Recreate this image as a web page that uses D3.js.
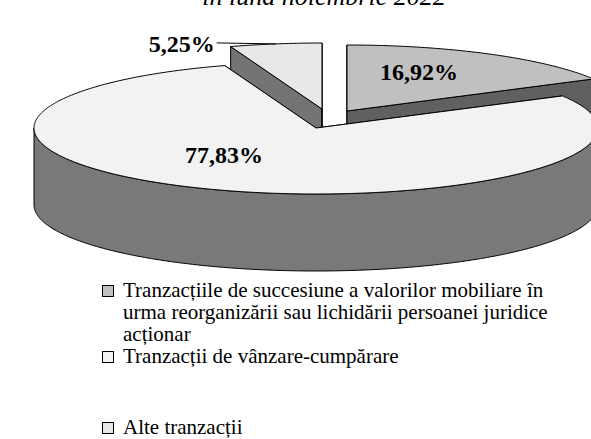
<!DOCTYPE html>
<html>
<head>
<meta charset="utf-8">
<script src="https://cdn.jsdelivr.net/npm/d3@7"></script>
<style>
  html, body { margin: 0; padding: 0; background: #ffffff; }
  svg { display: block; }
</style>
</head>
<body>
<script>
// ---------------- data ----------------
const titleText = "în luna noiembrie 2022";
const categories = [
  "Tranzacțiile de succesiune a valorilor mobiliare în urma reorganizării sau lichidării persoanei juridice acționar",
  "Tranzacții de vânzare-cumpărare",
  "Alte tranzacții"
];
const values = [16.92, 77.83, 5.25];
const valueLabels = ["16,92%", "77,83%", "5,25%"];
const sliceColors = ["#c0c0c0", "#f2f2f2", "#e8e8e8"];

// ---------------- layout / style ----------------
const W = 591, H = 439;
const cx = 316, cy = 128, rx = 282, ry = 66, depth = 77;
const explodeOffset = [[31, -17], [0, 0], [6, -19]];
const labelOffset = [[72, -39], [-92, 27], null]; // relative to slice centre; null = outside label
const fontSerif = "'Liberation Serif', 'Times New Roman', serif";

const svg = d3.select("body").append("svg")
  .attr("width", W).attr("height", H);

// title (clipped at top of frame, as in the source)
svg.append("text")
  .attr("x", 324).attr("y", 5)
  .attr("text-anchor", "middle")
  .attr("font-family", fontSerif)
  .attr("font-style", "italic")
  .attr("font-size", 26)
  .text(titleText);

const pie = d3.pie().sort(null).value(d => d);
const arcs = pie(values);

function pt(c, a, r = 1, dy = 0) {
  return [c[0] + r * rx * Math.sin(a), c[1] - r * ry * Math.cos(a) + dy];
}
function arcPts(c, a0, a1, dy = 0) {
  const n = Math.max(2, Math.ceil((a1 - a0) / 0.01));
  return d3.range(n + 1).map(i => pt(c, a0 + (a1 - a0) * i / n, 1, dy));
}
const line = d3.line();
const closed = pts => line(pts) + "Z";

function wallColor(col) {
  const c = d3.rgb(col);
  return d3.rgb(c.r * 0.5, c.g * 0.5, c.b * 0.5).formatHex();
}

const slices = arcs.map((d, i) => {
  const c = [cx + explodeOffset[i][0], cy + explodeOffset[i][1]];
  const mid = (d.startAngle + d.endAngle) / 2;
  return { d, i, c, mid, sortKey: c[1] - 0.5 * ry * Math.cos(mid) };
}).sort((a, b) => a.sortKey - b.sortKey);

const g = svg.append("g")
  .attr("stroke", "#000")
  .attr("stroke-width", 1)
  .attr("stroke-linejoin", "round");

slices.forEach(s => {
  const { d, c, i } = s;
  const wc = wallColor(sliceColors[i]);
  // radial walls
  [d.startAngle, d.endAngle].forEach(a => {
    const p = pt(c, a);
    g.append("path")
      .attr("d", closed([c, p, [p[0], p[1] + depth], [c[0], c[1] + depth]]))
      .attr("fill", wc);
  });
  // outer (front) wall
  const lo = Math.max(d.startAngle, Math.PI / 2);
  const hi = Math.min(d.endAngle, 3 * Math.PI / 2);
  if (lo < hi) {
    const top = arcPts(c, lo, hi, 0);
    const bot = arcPts(c, lo, hi, depth).reverse();
    g.append("path").attr("d", closed(top.concat(bot))).attr("fill", wc);
  }
  // top face
  g.append("path")
    .attr("d", closed([c].concat(arcPts(c, d.startAngle, d.endAngle))))
    .attr("fill", sliceColors[i]);
});

// value labels
slices.forEach(s => {
  const { i, c, mid } = s;
  if (labelOffset[i]) {
    svg.append("text")
      .attr("x", c[0] + labelOffset[i][0])
      .attr("y", c[1] + labelOffset[i][1])
      .attr("text-anchor", "middle")
      .attr("dominant-baseline", "central")
      .attr("font-family", fontSerif)
      .attr("font-weight", "bold")
      .attr("font-size", 24)
      .text(valueLabels[i]);
  } else {
    const p = pt(c, mid);
    const lx = p[0] - 59, ly = p[1] - 1;
    svg.append("line")
      .attr("x1", lx).attr("y1", ly).attr("x2", p[0]).attr("y2", p[1])
      .attr("stroke", "#000").attr("stroke-width", 1);
    svg.append("text")
      .attr("x", lx - 2).attr("y", ly + 9)
      .attr("text-anchor", "end")
      .attr("font-family", fontSerif)
      .attr("font-weight", "bold")
      .attr("font-size", 24)
      .text(valueLabels[i]);
  }
});

// legend
const legendX = 102, textX = 123, boxSize = 11, lineH = 22, wrapW = 455;
const firstBaseline = 297, lastBaseline = 434;
const lg = svg.append("g").attr("font-family", fontSerif).attr("font-size", 21);

function wrapLines(str) {
  const words = str.split(" ");
  const tmp = lg.append("text");
  const lines = [];
  let cur = "";
  words.forEach(w => {
    const test = cur ? cur + " " + w : w;
    tmp.text(test);
    if (tmp.node().getComputedTextLength() > wrapW && cur) {
      lines.push(cur);
      cur = w;
    } else cur = test;
  });
  if (cur) lines.push(cur);
  tmp.remove();
  return lines;
}

let y = firstBaseline;
categories.forEach((cat, i) => {
  const lines = wrapLines(cat);
  const by = (i === categories.length - 1) ? lastBaseline : y;
  lg.append("rect")
    .attr("x", legendX + 0.5).attr("y", by - boxSize - 0.5)
    .attr("width", boxSize).attr("height", boxSize)
    .attr("fill", sliceColors[i]).attr("stroke", "#000").attr("stroke-width", 1);
  const t = lg.append("text").attr("x", textX).attr("y", by).attr("fill", "#000");
  lines.forEach((ln, k) => {
    t.append("tspan").attr("x", textX).attr("y", by + k * lineH).text(ln);
  });
  y = by + lines.length * lineH;
});
</script>
</body>
</html>
